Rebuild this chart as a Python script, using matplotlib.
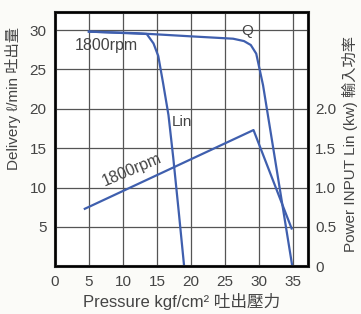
import matplotlib.pyplot as plt
import numpy as np

# Q curve (left axis, l/min)
q_p = [5.0, 12.0, 20.0, 26.2, 27.8, 28.8, 29.6, 30.6, 32.1, 33.5, 34.9]
q_v = [29.8, 29.6, 29.2, 28.9, 28.6, 28.1, 27.0, 23.0, 15.0, 7.5, 0.0]

# second delivery curve (flat then steep drop)
d_p = [5.0, 13.5, 14.5, 15.2, 15.9, 16.7, 17.4, 18.2, 19.0]
d_v = [29.8, 29.5, 28.3, 26.7, 23.3, 19.2, 13.8, 7.0, 0.0]

# power input (right axis, kW)
l_p = [4.4, 29.2, 34.8]
l_v = [0.73, 1.73, 0.48]

x_ticks = [0, 5, 10, 15, 20, 25, 30, 35]
y_ticks = [5, 10, 15, 20, 25, 30]
r_ticks = [0, 0.5, 1.0, 1.5, 2.0]
r_labels = ["0", "0.5", "1.0", "1.5", "2.0"]

plt.rcParams['font.family'] = ['Liberation Sans', 'Noto Sans CJK TC', 'DejaVu Sans']
line_col = '#3f5fae'
txt_col = '#444444'

fig = plt.figure(figsize=(3.61, 3.14), dpi=100)
fig.patch.set_facecolor('#fbfbf8')
ax = fig.add_axes([0.152, 0.152, 0.701, 0.810])
ax.set_facecolor('white')
ax.set_xlim(0, 37.2)
ax.set_ylim(0, 32.3)

ax.set_xticks(x_ticks)
ax.set_yticks(y_ticks)
ax.grid(True, color='#555555', lw=0.9)
ax.tick_params(length=0, labelsize=11, labelcolor=txt_col, pad=6)
for s in ax.spines.values():
    s.set_linewidth(2.2)
    s.set_color('#222222')

ax.plot(q_p, q_v, color=line_col, lw=1.6)
ax.plot(d_p, d_v, color=line_col, lw=1.6)

ax2 = ax.twinx()
ax2.set_ylim(0, 3.23)
ax2.set_yticks(r_ticks)
ax2.set_yticklabels(r_labels)
ax2.tick_params(length=0, labelsize=11, labelcolor=txt_col, pad=5)
ax2.plot(l_p, l_v, color=line_col, lw=1.6)

ax.text(28.3, 29.9, 'Q', fontsize=11, color=txt_col, ha='center', va='center')
ax.text(7.6, 28.0, '1800rpm', fontsize=11.5, color=txt_col, ha='center', va='center')
ax.text(18.7, 18.3, 'Lin', fontsize=11, color=txt_col, ha='center', va='center')
ax.text(11.3, 12.3, '1800rpm', fontsize=11.5, color=txt_col, ha='center', va='center',
        rotation=23)

ax.set_xlabel('Pressure kgf/cm² 吐出壓力', fontsize=12, color=txt_col, labelpad=3)
ax.set_ylabel('Delivery ℓ/min 吐出量', fontsize=11, color=txt_col)
ax.yaxis.set_label_coords(-0.135, 0.66)
ax2.set_ylabel('Power INPUT Lin (kw) 輸入功率', fontsize=11, color=txt_col)
ax2.yaxis.set_label_coords(1.135, 0.48)

fig.savefig('out.png', dpi=100, facecolor=fig.get_facecolor())
